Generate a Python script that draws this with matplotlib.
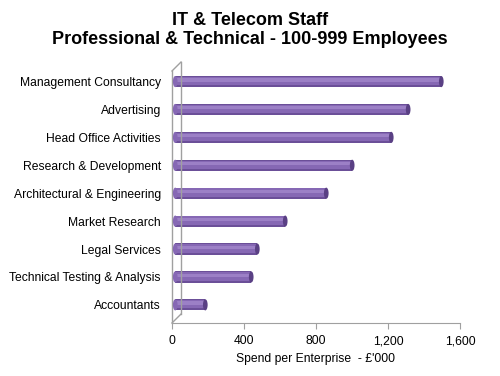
import matplotlib.pyplot as plt
from matplotlib.patches import Ellipse

plt.rcParams['font.family'] = ['Liberation Sans', 'DejaVu Sans']

# Data (bottom to top)
categories = ['Accountants', 'Technical Testing & Analysis', 'Legal Services',
              'Market Research', 'Architectural & Engineering', 'Research & Development',
              'Head Office Activities', 'Advertising', 'Management Consultancy']
spend = [167, 422, 456, 611, 839, 983, 1200, 1294, 1478]
xticks = [0, 400, 800, 1200, 1600]
xticklabels = ['0', '400', '800', '1,200', '1,600']

fig = plt.figure(figsize=(5, 3.76), dpi=100)
ax = fig.add_axes([0.344, 0.141, 0.576, 0.694])

ypos = list(range(len(categories)))
x0 = 18  # bars start slightly right of the front wall
bh = 0.4

# cylinder-ish bars: base plus soft highlight
ax.barh(ypos, spend, height=bh, left=x0, color='#6B4F98', linewidth=0)
ax.barh([y + 0.02 for y in ypos], spend, height=bh * 0.75, left=x0, color='#8668B4', linewidth=0)
ax.barh([y + 0.06 for y in ypos], spend, height=bh * 0.3, left=x0, color='#9C80C6', linewidth=0)
# end caps
for y, v in zip(ypos, spend):
    ax.add_patch(Ellipse((x0 + v, y), 26, bh, facecolor='#5A4084', edgecolor='none', zorder=3))
    ax.add_patch(Ellipse((x0, y), 26, bh, facecolor='#8668B4', edgecolor='none', zorder=3))

ax.set_xlim(0, 1600)
ax.set_ylim(-0.65, 8.7)

# 3D-style walls
dx, dy = 50, 0.32
gray = '#A0A0A0'
ax.plot([dx, dx], [-0.65 + dy, 8.7], color=gray, lw=1, clip_on=False)
ax.plot([0, 0], [-0.65, 8.7 - dy], color=gray, lw=1, clip_on=False)
ax.plot([0, dx], [8.7 - dy, 8.7], color=gray, lw=1, clip_on=False)
ax.plot([0, dx], [-0.65, -0.65 + dy], color=gray, lw=1, clip_on=False)

for s in ['top', 'right', 'left']:
    ax.spines[s].set_visible(False)
ax.spines['bottom'].set_color(gray)

ax.set_yticks(ypos)
ax.set_yticklabels(categories, fontsize=8.7)
ax.tick_params(axis='y', length=0, pad=8)
ax.set_xticks(xticks)
ax.set_xticklabels(xticklabels, fontsize=8.7)
ax.tick_params(axis='x', length=4, color=gray, pad=5)
ax.set_xlabel("Spend per Enterprise  - £'000", fontsize=8.7, labelpad=4)

fig.suptitle('IT & Telecom Staff\nProfessional & Technical - 100-999 Employees',
             fontsize=13, fontweight='bold', y=0.967, linespacing=1.1)

fig.savefig('out.png', dpi=100)
